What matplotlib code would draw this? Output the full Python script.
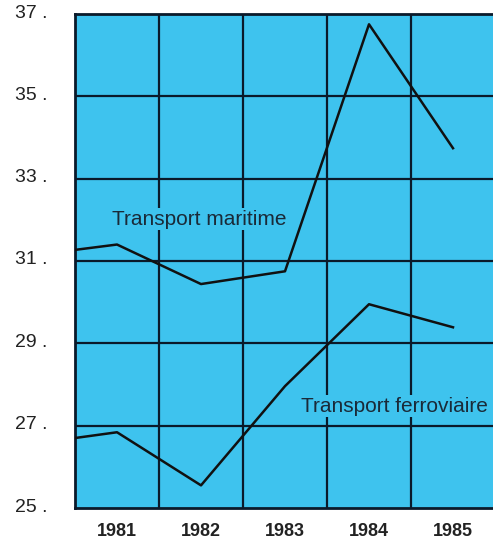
import matplotlib.pyplot as plt
import matplotlib.transforms as mtransforms

years = [1980, 1981, 1982, 1983, 1984, 1985]
maritime = [31.14, 31.4, 30.44, 30.75, 36.75, 33.74]
ferroviaire = [26.56, 26.84, 25.55, 27.96, 29.95, 29.39]
ytick_vals = [25, 27, 29, 31, 33, 35, 37]
year_labels = ['1981', '1982', '1983', '1984', '1985']

bg = '#3ec3ee'
plt.rcParams['font.family'] = ['Liberation Sans', 'DejaVu Sans']

fig = plt.figure(figsize=(4.93, 5.39), dpi=100)
ax = fig.add_axes([75 / 493, 31 / 539, 420 / 493, 494 / 539])
ax.set_facecolor(bg)

ax.plot(years, maritime, color='#111111', lw=1.8, zorder=3)
ax.plot(years, ferroviaire, color='#111111', lw=1.8, zorder=3)

ax.set_xlim(1980.5, 1985.5)
ax.set_ylim(25, 37)

# grid lines between the years and on the labelled values
for x in [1981.5, 1982.5, 1983.5, 1984.5]:
    ax.axvline(x, color='#0a1a2a', lw=1.6, zorder=1)
for y in ytick_vals[1:-1]:
    ax.axhline(y, color='#0a1a2a', lw=1.6, zorder=1)

for side in ['left', 'bottom', 'top']:
    ax.spines[side].set_linewidth(2)
    ax.spines[side].set_color('#0a1a2a')
ax.spines['right'].set_visible(False)

ax.set_yticks(ytick_vals)
ax.set_yticklabels([f'{v} .' for v in ytick_vals], fontsize=14, color='#222222')
ax.set_xticks([1981, 1982, 1983, 1984, 1985])
ax.set_xticklabels(year_labels, fontsize=13, fontweight='bold', color='#222222')
ax.tick_params(axis='y', length=0, pad=20)
ax.tick_params(axis='x', length=0, pad=11)

# labels sit a little above their grid values
shift = mtransforms.ScaledTranslation(0, 3 / 100, fig.dpi_scale_trans)
for lab in ax.get_yticklabels():
    lab.set_transform(lab.get_transform() + shift)

ax.text(1981.98, 32.02, 'Transport maritime', fontsize=15, color='#1a2a38',
        va='center', ha='center', zorder=4,
        bbox=dict(facecolor=bg, edgecolor='none', pad=1))
ax.text(1984.30, 27.47, 'Transport ferroviaire', fontsize=15, color='#1a2a38',
        va='center', ha='center', zorder=4,
        bbox=dict(facecolor=bg, edgecolor='none', pad=1))

fig.savefig('out.png', dpi=100)
